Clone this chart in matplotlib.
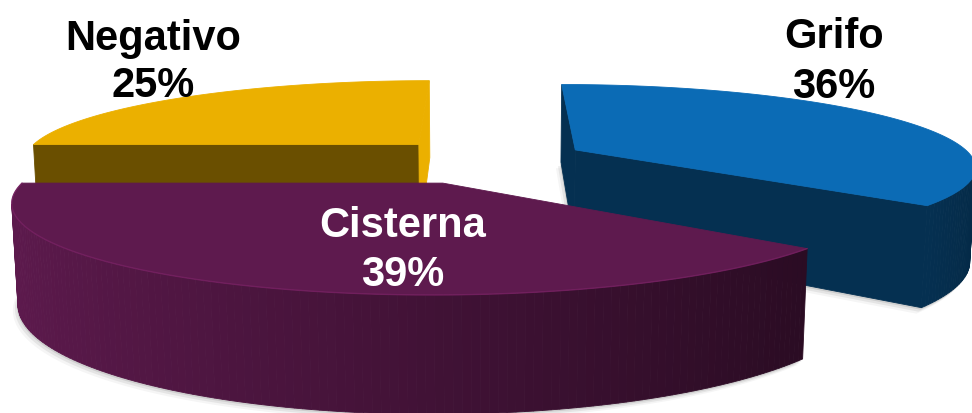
import numpy as np
import matplotlib.pyplot as plt
from matplotlib.patches import Polygon
from matplotlib.colors import to_rgb

# ---------------- data ----------------
labels = ["Grifo", "Cisterna", "Negativo"]
shares = [36, 39, 25]

# ---------------- style ----------------
top_colors = ["#0b6bb5", "#5e1a4e", "#ebb000"]
label_colors = ["black", "white", "black"]
explode = [0.25, 0.31, 0.25]
# label centre x, baseline of name, baseline of percentage (pixels)
label_pos = [(834, 48, 98), (403, 237, 286), (153, 50, 97)]

W, H = 972, 413

# ---------------- camera ----------------
F = 2069.0
PX, PY = 487.0, 280.0
PITCH = np.radians(15)
CAM = np.array([0.0, -5.1, 1.05])
THICK = 0.24
START = 90.0   # first slice starts at 12 o'clock, slices run clockwise

fwd = np.array([0.0, np.cos(PITCH), -np.sin(PITCH)])
up = np.array([0.0, np.sin(PITCH), np.cos(PITCH)])
right = np.array([1.0, 0.0, 0.0])


def project(pts):
    v = np.atleast_2d(pts) - CAM
    zc = v @ fwd
    return np.column_stack([PX + F * (v @ right) / zc, PY - F * (v @ up) / zc])


def lift(xy, z):
    xy = np.atleast_2d(xy)
    return np.column_stack([xy, np.full(len(xy), z)])


def facing(pts3, normal):
    c = pts3.mean(axis=0)
    return np.dot(normal, CAM - c) > 0


def shade(color, k):
    return tuple(np.clip(np.array(to_rgb(color)) * k, 0, 1))


def slice_faces(t0, t1, color, expl):
    mid = np.radians((t0 + t1) / 2)
    off = expl * np.array([np.cos(mid), np.sin(mid)])
    n = max(int(abs(t0 - t1)), 2) + 1
    th = np.radians(np.linspace(t0, t1, n))
    rim = off + np.column_stack([np.cos(th), np.sin(th)])
    apex = off[None, :]
    faces = []

    # radial walls: lit from the right
    for ang, edge in ((t0 + 90, rim[0]), (t1 - 90, rim[-1])):
        a = np.radians(ang)
        nrm = np.array([np.cos(a), np.sin(a), 0.0])
        quad = np.vstack([lift(apex, 0), lift(edge, 0), lift(edge, -THICK), lift(apex, -THICK)])
        if facing(quad, nrm):
            faces.append((quad, shade(color, 0.45 + 0.55 * max(0.0, nrm[0]))))

    # outer rim: soft gradient, light on the left
    for i in range(n - 1):
        a = (th[i] + th[i + 1]) / 2
        nrm = np.array([np.cos(a), np.sin(a), 0.0])
        quad = np.vstack([lift(rim[i], 0), lift(rim[i + 1], 0),
                          lift(rim[i + 1], -THICK), lift(rim[i], -THICK)])
        if facing(quad, nrm):
            faces.append((quad, shade(color, 0.38 + 0.62 * (1 - nrm[0]) / 2)))

    top = np.vstack([lift(apex, 0), lift(rim, 0)])
    faces.append((top, to_rgb(color)))
    bottom = np.vstack([lift(apex, -THICK), lift(rim, -THICK)])
    return faces, off, rim, bottom


fig = plt.figure(figsize=(W / 100, H / 100), dpi=100)
ax = fig.add_axes([0, 0, 1, 1])
ax.set_xlim(0, W)
ax.set_ylim(H, 0)
ax.axis("off")

angles = START - np.cumsum([0] + shares) * 3.6
pieces = []
for i in range(len(shares)):
    faces, off, rim, bottom = slice_faces(angles[i], angles[i + 1], top_colors[i], explode[i])
    pieces.append((off[1], faces, rim, bottom, i))

# soft drop shadows under each slice
for depth, faces, rim, bottom, i in pieces:
    base = project(bottom)
    for dx, dy, a in ((-5, 6, 0.08), (-3, 4, 0.14), (-1, 2, 0.22)):
        ax.add_patch(Polygon(base + [dx, dy], closed=True, facecolor="#808080",
                             edgecolor="none", alpha=a))

# farthest slice first
for depth, faces, rim, bottom, i in sorted(pieces, key=lambda p: -p[0]):
    for pts3, col in faces:
        ax.add_patch(Polygon(project(pts3), closed=True, facecolor=col,
                             edgecolor=col, linewidth=0.6))
    edge = project(lift(rim, 0))
    if labels[i] == "Cisterna":
        ax.plot(edge[:, 0], edge[:, 1], color=shade(top_colors[i], 1.35), lw=1.0, alpha=0.6)

for i, name in enumerate(labels):
    x, y1, y2 = label_pos[i]
    kw = dict(ha="center", va="baseline", fontsize=30, fontweight="bold",
              family="Liberation Sans", color=label_colors[i])
    ax.text(x, y1, name, **kw)
    ax.text(x, y2, f"{shares[i]}%", **kw)

fig.savefig("out.png", dpi=100, facecolor="white")
